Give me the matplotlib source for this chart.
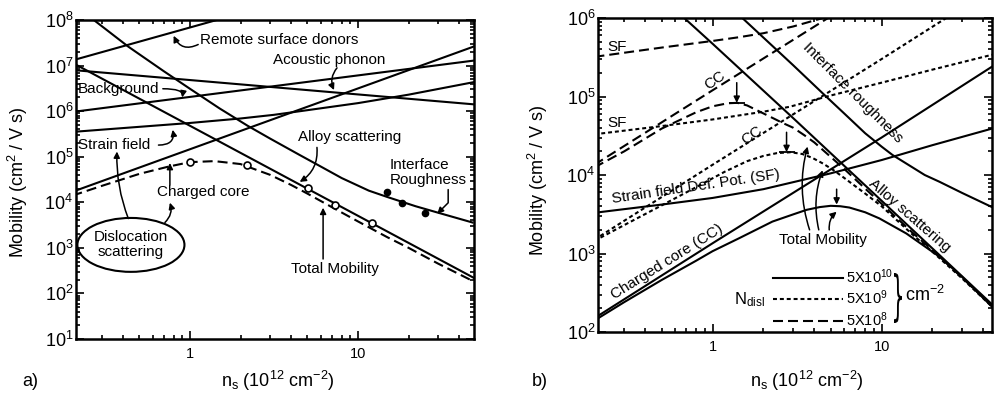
import matplotlib.pyplot as plt
from matplotlib.patches import Ellipse, PathPatch
from matplotlib.textpath import TextPath
from matplotlib.font_manager import FontProperties
from matplotlib.transforms import Affine2D
from matplotlib.ticker import LogLocator, FixedLocator, FixedFormatter, NullFormatter

plt.rcParams['font.family'] = ['Liberation Sans', 'DejaVu Sans']
plt.rcParams['mathtext.fontset'] = 'custom'
plt.rcParams['mathtext.rm'] = 'Liberation Sans'
plt.rcParams['mathtext.it'] = 'Liberation Sans:italic'
plt.rcParams['mathtext.bf'] = 'Liberation Sans:bold'

# ---------------- panel a) : scattering mechanisms ----------------
remote_x = [0.2, 2.0]
remote_y = [1.3e7, 1.4e8]
acoustic_x = [0.2, 50]
acoustic_y = [8.0e6, 1.4e6]
background_x = [0.2, 50]
background_y = [9.6e5, 1.3e7]
strain_x = [0.2, 1, 2, 3.16, 5, 10, 20, 50]
strain_y = [3.5e5, 5.5e5, 6.9e5, 8.3e5, 1.05e6, 1.5e6, 2.3e6, 4.4e6]
core_x = [0.2, 50]
core_y = [1.7e4, 2.7e7]
alloy_x = [0.2, 50]
alloy_y = [1.15e7, 2.1e2]
rough_x = [0.268, 0.43, 0.7, 1.0, 1.5, 2.2, 3.0, 4.48, 6, 8, 11.6, 15, 22, 30, 48]
rough_y = [1e8, 2.6e7, 7.5e6, 3.1e6, 1.15e6, 4.8e5, 2.5e5, 1.1e5, 6.1e4, 3.4e4,
           1.8e4, 1.3e4, 8.2e3, 5.9e3, 3.6e3]
total_x = [0.2, 0.3, 0.5, 0.75, 1.0, 1.4, 2.0, 3.0, 4.0, 5.0, 7.0, 10, 15, 20, 30, 50]
total_y = [1.4e4, 2.3e4, 4.2e4, 6.1e4, 7.6e4, 8.0e4, 6.9e4, 4.0e4, 2.4e4, 1.55e4,
           7.8e3, 3.8e3, 1.7e3, 1.0e3, 4.5e2, 1.75e2]
open_x = [1.0, 2.18, 5.04, 7.3, 12.1]
open_y = [7.8e4, 6.6e4, 2.1e4, 8.8e3, 3.5e3]
filled_x = [14.9, 18.3, 25]
filled_y = [1.7e4, 9.8e3, 5.9e3]

# ---------------- panel b) : three dislocation densities ----------------
sf8_x = [0.2, 0.5, 1, 1.44, 2, 3, 4.5, 6]
sf8_y = [3.2e5, 4.2e5, 5.1e5, 5.7e5, 6.4e5, 7.8e5, 1.0e6, 1.2e6]
sf9_x = [0.2, 0.5, 1, 2, 2.86, 5, 10, 20, 45]
sf9_y = [3.3e4, 4.2e4, 5.1e4, 6.4e4, 7.4e4, 1.03e5, 1.5e5, 2.2e5, 3.4e5]
sf10_x = [0.2, 0.5, 1, 2, 5, 10, 20, 45]
sf10_y = [3.3e3, 4.2e3, 5.1e3, 6.6e3, 1.05e4, 1.55e4, 2.4e4, 3.9e4]
cc8_x = [0.2, 1, 5]
cc8_y = [1.35e4, 1.2e5, 1.05e6]
cc9_x = [0.2, 1, 10, 25]
cc9_y = [1.5e3, 1.35e4, 3.0e5, 1.05e6]
cc10_x = [0.2, 1, 10, 45]
cc10_y = [1.5e2, 1.35e3, 3.0e4, 2.4e5]
tot8_x = [0.2, 0.3, 0.5, 0.8, 1.0, 1.23, 1.4, 1.6, 1.8, 2.2, 2.6, 3.0, 3.5, 4.0,
          5.0, 6.0, 8.0, 10, 15, 20, 30, 45]
tot8_y = [1.25e4, 2.0e4, 3.9e4, 6.3e4, 7.5e4, 8.2e4, 8.3e4, 7.7e4, 6.8e4, 5.5e4,
          4.6e4, 4.0e4, 3.2e4, 2.6e4, 1.7e4, 1.2e4, 6.7e3, 4.3e3, 1.9e3, 1.1e3,
          4.9e2, 2.15e2]
tot9_x = [0.2, 0.3, 0.5, 0.78, 1.18, 1.6, 2.0, 2.4, 2.9, 3.4, 3.9, 4.5, 5.2, 6,
          8, 10, 15, 20, 30, 45]
tot9_y = [1.45e3, 2.3e3, 4.1e3, 6.8e3, 1.1e4, 1.5e4, 1.75e4, 1.9e4, 1.95e4,
          1.85e4, 1.65e4, 1.4e4, 1.15e4, 9.2e3, 5.8e3, 4.0e3, 1.8e3, 1.05e3,
          4.8e2, 2.1e2]
tot10_x = [0.2, 0.3, 0.5, 0.8, 1.0, 1.44, 2.26, 3.0, 3.6, 4.3, 5.0, 5.7, 6.45,
           8, 9.7, 14, 22, 30, 45]
tot10_y = [1.4e2, 2.4e2, 4.6e2, 8.1e2, 1.07e3, 1.57e3, 2.55e3, 3.15e3, 3.6e3,
           3.9e3, 4.05e3, 4.0e3, 3.85e3, 3.35e3, 2.8e3, 1.8e3, 9.1e2, 5.0e2, 2.1e2]
alloyb_x = [0.68, 1, 3, 10, 45]
alloyb_y = [1.0e6, 4.7e5, 5.3e4, 4.7e3, 2.25e2]
roughb_x = [1.5, 2.2, 3.0, 4.48, 6, 8, 10, 11.6, 14, 18, 22, 30, 45]
roughb_y = [1e6, 4.65e5, 2.5e5, 1.1e5, 6.1e4, 3.4e4, 2.3e4, 1.8e4, 1.4e4, 1.0e4,
            8.2e3, 5.9e3, 3.9e3]
ndisl_labels = ['5X10$^{10}$', '5X10$^{9}$', '5X10$^{8}$']

LW = 1.5
DASH = (4.8, 2.4)
DOT = (1.9, 1.4)
arrow = dict(arrowstyle='-|>', color='k', lw=1.1, mutation_scale=9,
             shrinkA=0, shrinkB=0)


def style(ax, xlim, ylim):
    ax.set_xscale('log')
    ax.set_yscale('log')
    ax.set_xlim(*xlim)
    ax.set_ylim(*ylim)
    ax.xaxis.set_major_locator(FixedLocator([1, 10]))
    ax.xaxis.set_major_formatter(FixedFormatter(['1', '10']))
    ax.xaxis.set_minor_locator(LogLocator(base=10, subs=range(2, 10), numticks=20))
    ax.xaxis.set_minor_formatter(NullFormatter())
    ax.yaxis.set_major_locator(LogLocator(base=10, numticks=20))
    ax.yaxis.set_minor_locator(LogLocator(base=10, subs=range(2, 10), numticks=20))
    ax.yaxis.set_minor_formatter(NullFormatter())
    ax.tick_params(which='both', direction='in', top=True, right=True, width=1.2)
    ax.tick_params(which='major', length=6)
    ax.tick_params(which='minor', length=3)
    ax.tick_params(axis='x', labelsize=10.5, pad=6)
    ax.tick_params(axis='y', labelsize=13, pad=2)
    for s in ax.spines.values():
        s.set_linewidth(1.8)


fig = plt.figure(figsize=(9.96, 3.98), dpi=100)
ax1 = fig.add_axes([76 / 996, 1 - 339 / 398, 398 / 996, 319 / 398])
ax2 = fig.add_axes([598 / 996, 1 - 332 / 398, 394 / 996, 314 / 398])

# ---- panel a ----
style(ax1, (0.21, 49), (1e1, 1e8))
for xs, ys in [(remote_x, remote_y), (acoustic_x, acoustic_y),
               (background_x, background_y), (strain_x, strain_y),
               (core_x, core_y), (alloy_x, alloy_y), (rough_x, rough_y)]:
    ax1.plot(xs, ys, color='k', lw=LW)
ax1.plot(total_x, total_y, color='k', lw=LW, dashes=DASH)
ax1.plot(open_x, open_y, 'o', ms=5, mfc='white', mec='k', mew=1.2)
ax1.plot(filled_x, filled_y, 'o', ms=4.5, color='k')

ax1.text(1.15, 3.6e7, 'Remote surface donors', fontsize=11, va='center', ha='left')
ax1.annotate('', xy=(0.8, 4.5e7), xytext=(1.12, 2.9e7),
             arrowprops=dict(arrow, connectionstyle='arc3,rad=-0.5'))
ax1.text(3.12, 1.3e7, 'Acoustic phonon', fontsize=11, va='center', ha='left')
ax1.annotate('', xy=(7.2, 2.9e6), xytext=(7.5, 8.9e6),
             arrowprops=dict(arrow, connectionstyle='arc3,rad=0.3'))
ax1.text(0.215, 3.1e6, 'Background', fontsize=11, va='center', ha='left')
ax1.annotate('', xy=(0.9, 2.0e6), xytext=(0.69, 3.1e6),
             arrowprops=dict(arrow, connectionstyle='angle3,angleA=0,angleB=80'))
ax1.text(0.215, 1.8e5, 'Strain field', fontsize=11, va='center', ha='left')
ax1.annotate('', xy=(0.79, 3.9e5), xytext=(0.65, 1.8e5),
             arrowprops=dict(arrow, connectionstyle='angle3,angleA=0,angleB=100'))
ax1.text(0.64, 1.7e4, 'Charged core', fontsize=11, va='center', ha='left')
ax1.annotate('', xy=(0.76, 7.3e4), xytext=(0.76, 2.4e4), arrowprops=arrow)
ax1.text(4.4, 2.7e5, 'Alloy scattering', fontsize=11, va='center', ha='left')
ax1.annotate('', xy=(4.5, 2.8e4), xytext=(5.7, 1.6e5),
             arrowprops=dict(arrow, connectionstyle='arc3,rad=-0.3'))
ax1.text(15.5, 4.6e4, 'Interface\nRoughness', fontsize=11, va='center', ha='left',
         linespacing=1.1)
ax1.annotate('', xy=(29.6, 5.6e3), xytext=(34.4, 1.9e4),
             arrowprops=dict(arrow, connectionstyle='angle,angleA=-90,angleB=45,rad=0'))
ax1.text(7.3, 3.5e2, 'Total Mobility', fontsize=11, va='center', ha='center')
ax1.annotate('', xy=(6.2, 7.6e3), xytext=(6.2, 5.7e2), arrowprops=arrow)

ax1.add_patch(Ellipse((0.138, 0.295), 0.269, 0.169, transform=ax1.transAxes,
                      fill=False, lw=1.5, color='k'))
ax1.text(0.138, 0.295, 'Dislocation\nscattering', transform=ax1.transAxes,
         fontsize=11, ha='center', va='center', linespacing=1.1)
ax1.annotate('', xy=(0.368, 1.3e5), xytext=(0.43, 4.4e3),
             arrowprops=dict(arrow, connectionstyle='arc3,rad=-0.1'))
ax1.annotate('', xy=(0.76, 9.8e3), xytext=(0.71, 3.6e3),
             arrowprops=dict(arrow, connectionstyle='arc3,rad=0.3'))

# ---- panel b ----
style(ax2, (0.21, 45), (1e2, 1e6))
ax2.plot(sf8_x, sf8_y, color='k', lw=LW, dashes=DASH)
ax2.plot(sf9_x, sf9_y, color='k', lw=LW, dashes=DOT)
ax2.plot(sf10_x, sf10_y, color='k', lw=LW)
ax2.plot(cc8_x, cc8_y, color='k', lw=LW, dashes=DASH)
ax2.plot(cc9_x, cc9_y, color='k', lw=LW, dashes=DOT)
ax2.plot(cc10_x, cc10_y, color='k', lw=LW)
h8, = ax2.plot(tot8_x, tot8_y, color='k', lw=LW, dashes=DASH)
h9, = ax2.plot(tot9_x, tot9_y, color='k', lw=LW, dashes=DOT)
h10, = ax2.plot(tot10_x, tot10_y, color='k', lw=LW)
ax2.plot(alloyb_x, alloyb_y, color='k', lw=LW)
ax2.plot(roughb_x, roughb_y, color='k', lw=LW)

ax2.text(0.24, 4.3e5, 'SF', fontsize=11, va='center', ha='left')
ax2.text(0.24, 4.6e4, 'SF', fontsize=11, va='center', ha='left')
ax2.text(1.04, 1.58e5, 'CC', fontsize=11, va='center', ha='center', rotation=35)
ax2.text(1.7, 3.2e4, 'CC', fontsize=11, va='center', ha='center', rotation=35)
ax2.text(0.80, 7.1e3, 'Strain field Def. Pot. (SF)', fontsize=11, va='center',
         ha='center', rotation=8.4)
ax2.text(0.54, 7.8e2, 'Charged core (CC)', fontsize=11, va='center',
         ha='center', rotation=32)
ax2.text(6.7, 1.1e5, 'Interface roughness', fontsize=11, va='center',
         ha='center', rotation=-45)
ax2.text(14.6, 3.0e3, 'Alloy scattering', fontsize=11, va='center',
         ha='center', rotation=-41)

for xa, ytop, ytip, bar in [(1.39, 1.5e5, 8.3e4, True), (2.74, 3.5e4, 1.96e4, True),
                            (5.42, 6.6e3, 4.2e3, False)]:
    ax2.annotate('', xy=(xa, ytip), xytext=(xa, ytop), arrowprops=arrow)
    if bar:
        ax2.plot(xa, ytip, marker='_', ms=12, mew=1.3, color='k')

ax2.text(4.48, 1.5e3, 'Total Mobility', fontsize=11, va='center', ha='center')
for xs, xt, yt, rad in [(3.75, 3.65, 2.3e4, -0.15), (4.25, 4.48, 1.15e4, -0.15),
                        (4.9, 5.42, 3.4e3, -0.25)]:
    ax2.annotate('', xy=(xt, yt), xytext=(xs, 2.0e3),
                 arrowprops=dict(arrow, connectionstyle='arc3,rad=%g' % rad))

ax2.legend([h10, h9, h8], ndisl_labels, loc='center', frameon=False,
           bbox_to_anchor=(0.598, 0.108), fontsize=10.5, handlelength=4.8,
           handletextpad=0.2, labelspacing=0.2, borderpad=0)
ax2.text(1.66, 2.6e2, 'N$_{\\mathrm{disl}}$', fontsize=12, va='center', ha='center')
ax2.text(13.7, 2.95e2, 'cm$^{-2}$', fontsize=13, va='center', ha='left')

# tall thin brace grouping the three densities (figure pixel coordinates)
brace = TextPath((0, 0), '}', size=1, prop=FontProperties(family='DejaVu Sans'))
ext = brace.get_extents()
brace_tr = (Affine2D().translate(-ext.x0, -ext.y0)
            .scale(8 / ext.width, 50 / ext.height).translate(894, 398 - 323))
fig.add_artist(PathPatch(brace, transform=brace_tr, color='k', lw=0))

# ---- axis titles ----
fig.text(18 / 996, 1 - 182 / 398, 'Mobility (cm$^2$ / V s)', rotation=90,
         fontsize=13, ha='center', va='center')
fig.text(538 / 996, 1 - 180 / 398, 'Mobility (cm$^2$ / V s)', rotation=90,
         fontsize=13, ha='center', va='center')
fig.text(278 / 996, 1 - 381 / 398, 'n$_\\mathrm{s}$ (10$^{12}$ cm$^{-2}$)',
         fontsize=13, ha='center', va='center')
fig.text(807 / 996, 1 - 381 / 398, 'n$_\\mathrm{s}$ (10$^{12}$ cm$^{-2}$)',
         fontsize=13, ha='center', va='center')
fig.text(30 / 996, 1 - 381 / 398, 'a)', fontsize=13, ha='center', va='center')
fig.text(540 / 996, 1 - 381 / 398, 'b)', fontsize=13, ha='center', va='center')

fig.savefig('out.png', dpi=100)
